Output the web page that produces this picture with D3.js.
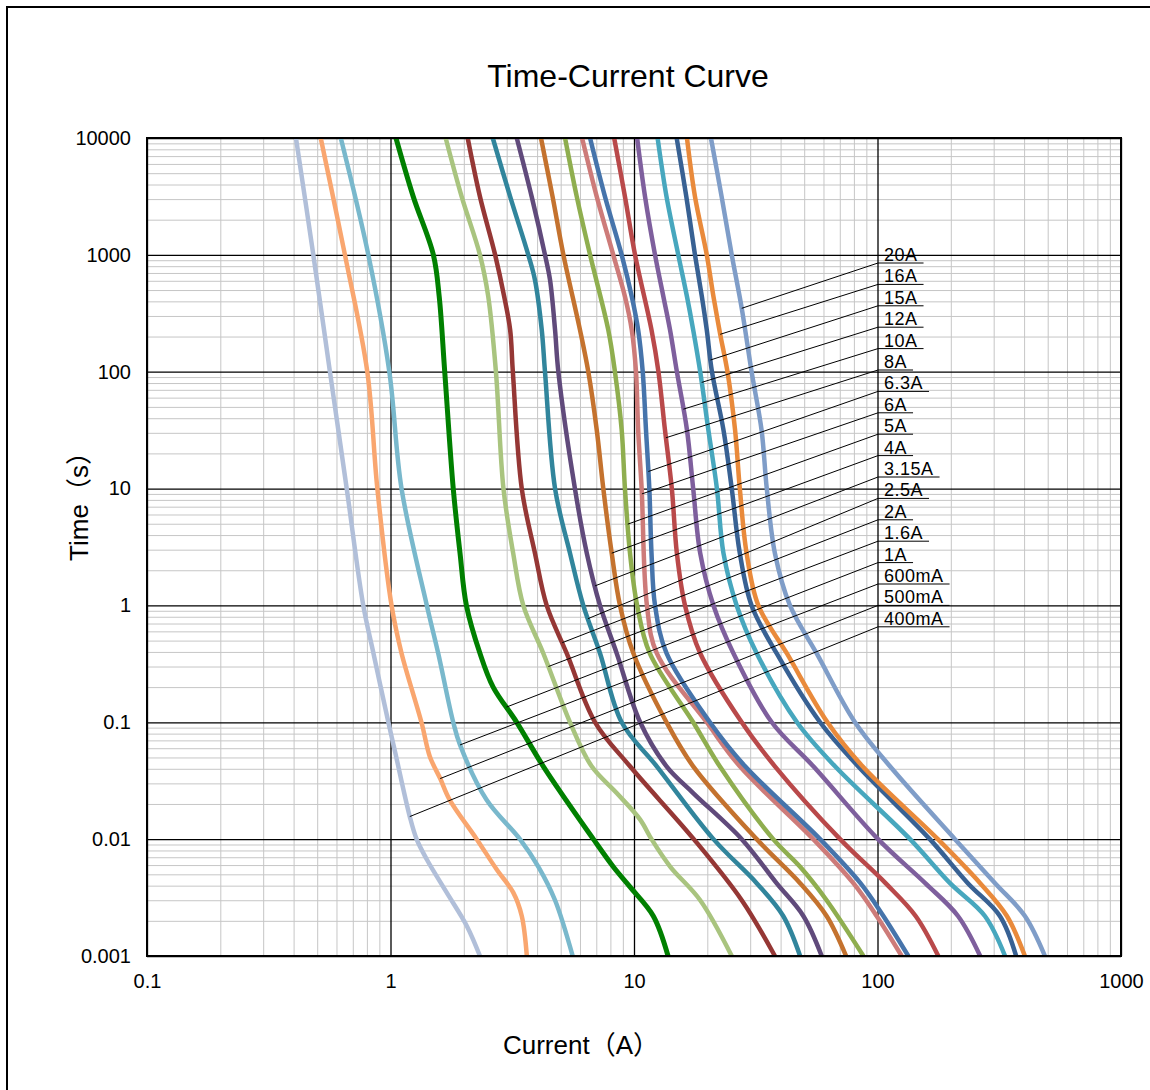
<!DOCTYPE html>
<html>
<head>
<meta charset="utf-8">
<script src="https://cdn.jsdelivr.net/npm/d3@7"></script>
<style>
body { margin: 0; background: #fff; }
text { font-family: "Liberation Sans", Arial, "Noto Sans CJK SC", sans-serif; fill: #000; }
.grid line { stroke: #c6c6c6; stroke-width: 1; }
.major line { stroke: #000; stroke-width: 1.3; }
.label text { font-family: "Liberation Sans", Arial, sans-serif; font-size: 18px; letter-spacing: 0.5px; }
</style>
</head>
<body>
<script>
var w = 1150, h = 1090;
var margin = {"left": 147, "right": 29, "top": 138, "bottom": 134};

// fuse ratings, left to right on the chart
var ratings = ["400mA", "500mA", "600mA", "1A", "1.6A", "2A", "2.5A", "3.15A", "4A",
               "5A", "6A", "6.3A", "8A", "10A", "12A", "15A", "16A", "20A"];
var colors = ["#b1bfd9", "#f9a66f", "#79b8cc", "#008000", "#a9c47f", "#953735", "#31859c", "#604a7b", "#c4722e",
              "#8fae4f", "#cd7b79", "#4674ab", "#b9494a", "#7e5f9d", "#47a7be", "#386193", "#e98a3b", "#7f9dc8"];
// time (s) where each label's leader line touches its curve
var labelTimes = [0.0156, 0.033, 0.064, 0.135, 0.30, 0.48, 0.77, 1.47, 2.8,
                  4.96, 9.0, 14.0, 27.2, 47.8, 81, 126, 209, 349];

var xTicks = [0.1, 1, 10, 100, 1000];
var xTickLabels = ["0.1", "1", "10", "100", "1000"];
var yTicks = [0.001, 0.01, 0.1, 1, 10, 100, 1000, 10000];
var yTickLabels = ["0.001", "0.01", "0.1", "1", "10", "100", "1000", "10000"];

// [current A, time s]
var c400mA = [[0.409,10000],[0.482,1000],[0.564,100],[0.661,10],[0.773,1],[0.851,0.39],[0.98,0.1],[1.044,0.056],[1.20,0.0156],[1.28,0.01],[1.41,0.0067],[1.70,0.0035],[2.06,0.0018],[2.33,0.001]];
var c500mA = [[0.517,10000],[0.65,1000],[0.803,100],[0.883,10],[1.01,1],[1.11,0.39],[1.34,0.1],[1.45,0.051],[1.60,0.033],[1.75,0.0217],[2.26,0.01],[2.73,0.0055],[3.19,0.0035],[3.46,0.0022],[3.63,0.001]];
var c600mA = [[0.625,10000],[0.811,1000],[0.989,100],[1.11,10],[1.41,1],[1.57,0.39],[1.81,0.1],[1.93,0.064],[2.48,0.0217],[3.40,0.01],[4.05,0.0058],[4.74,0.003],[5.60,0.001]];
var c1A = [[1.053,10000],[1.24,3150],[1.50,1000],[1.585,440],[1.67,100],[1.81,10],[1.93,2.8],[2.05,1],[2.33,0.39],[2.64,0.2],[3.30,0.1],[4.24,0.042],[6.81,0.01],[8.22,0.0058],[9.63,0.0039],[12.0,0.0022],[13.8,0.001]];
var c1_6A = [[1.685,10000],[1.96,3150],[2.33,1000],[2.52,440],[2.71,100],[2.91,10],[3.19,2.8],[3.51,1],[4.24,0.39],[5.46,0.1],[6.70,0.042],[8.49,0.0248],[10.6,0.0147],[11.8,0.01],[14.1,0.0058],[18.7,0.003],[25.2,0.001]];
var c2A = [[2.075,10000],[2.33,3150],[2.69,1000],[2.93,440],[3.10,228],[3.18,100],[3.46,10],[3.92,2.8],[4.38,1],[5.29,0.39],[6.92,0.1],[9.63,0.042],[17.6,0.01],[27.7,0.003],[37.9,0.001]];
var c2_5A = [[2.63,10000],[3.10,3150],[3.68,1000],[3.92,610],[4.18,228],[4.31,100],[4.74,10],[5.46,2.8],[6.19,1],[7.25,0.39],[8.90,0.1],[12.4,0.042],[21.2,0.01],[31.9,0.0042],[41.0,0.0022],[48.1,0.001]];
var c3_15A = [[3.30,10000],[3.80,3150],[4.31,1000],[4.52,610],[4.74,228],[4.89,100],[5.72,10],[6.40,2.8],[7.25,1],[8.49,0.39],[10.6,0.1],[13.6,0.042],[17.5,0.0248],[27.7,0.01],[38.5,0.0042],[49.6,0.0022],[59.0,0.001]];
var c4A = [[4.15,10000],[4.63,3150],[5.13,1000],[6.00,228],[6.49,100],[7.03,31.8],[7.48,10],[8.10,2.8],[8.76,1],[9.94,0.39],[13.6,0.1],[17.5,0.042],[31.9,0.01],[48.1,0.0042],[61.8,0.0022],[74.3,0.001]];
var c5A = [[5.21,10000],[5.82,3150],[6.60,1000],[7.84,228],[8.35,100],[8.90,31.8],[9.18,10],[9.63,2.8],[10.3,1],[11.6,0.39],[17.5,0.1],[22.5,0.042],[37.3,0.01],[48.1,0.0058],[61.8,0.003],[87.5,0.001]];
var c6A = [[6.12,10000],[7.03,3150],[8.22,1000],[9.18,440],[9.79,228],[10.19,100],[10.4,31.8],[10.75,10],[11.3,1],[12.4,0.39],[19.9,0.1],[27.2,0.042],[54.5,0.01],[79.6,0.0042],[99.2,0.0022],[125.7,0.001]];
var c6_3A = [[6.60,10000],[7.60,3150],[8.90,1000],[9.79,440],[10.4,228],[10.86,100],[11.2,31.8],[11.56,10],[11.8,2.8],[12.2,1],[13.6,0.39],[20.5,0.1],[28.6,0.042],[58.1,0.01],[85.1,0.0042],[105.7,0.0022],[133.8,0.001]];
var c8A = [[8.29,10000],[9.18,3150],[10.1,1000],[11.8,228],[12.6,100],[13.4,31.8],[14.3,10],[15.0,2.8],[16.2,1],[18.7,0.39],[27.7,0.1],[37.9,0.042],[70.2,0.01],[107.9,0.0042],[143.4,0.0022],[177.7,0.001]];
var c10A = [[10.3,10000],[11.1,3150],[12.2,1000],[13.2,440],[14.06,228],[15.0,100],[16.5,31.8],[17.5,10],[18.7,2.8],[21.2,1],[25.6,0.39],[36.8,0.1],[54.5,0.042],[100.5,0.01],[157,0.0042],[214,0.0022],[264,0.001]];
var c12A = [[12.5,10000],[13.6,3150],[15.2,1000],[16.5,440],[17.5,228],[18.7,100],[20.2,31.8],[21.9,10],[23.3,2.8],[26.4,1],[31.9,0.39],[46.7,0.1],[66.9,0.042],[136,0.01],[198.5,0.0042],[276,0.0022],[334,0.001]];
var c15A = [[14.97,10000],[16.4,3150],[17.8,1000],[19.0,440],[19.9,228],[20.9,100],[23.3,31.8],[25.2,10],[27.2,2.8],[30.4,1],[38.5,0.39],[58.1,0.1],[83.2,0.042],[164,0.01],[235,0.0042],[318,0.0022],[371,0.001]];
var c16A = [[16.5,10000],[17.8,3150],[19.9,1000],[21.2,440],[22.6,209],[24.2,100],[26.0,31.8],[27.2,10],[29.0,2.8],[32.4,1],[42.4,0.39],[62.3,0.1],[86.8,0.042],[177,0.01],[264,0.0042],[340,0.0022],[403,0.001]];
var c20A = [[20.7,10000],[22.9,3150],[25.2,1000],[27.7,349],[30.4,100],[33.4,31.8],[35.1,10],[37.9,2.8],[43.7,1],[56.2,0.39],[80.8,0.1],[112.5,0.042],[208,0.01],[304,0.0042],[403,0.0022],[487,0.001]];

var curves = [c400mA, c500mA, c600mA, c1A, c1_6A, c2A, c2_5A, c3_15A, c4A,
              c5A, c6A, c6_3A, c8A, c10A, c12A, c15A, c16A, c20A];

var x0 = margin.left, x1 = w - margin.right;
var y0 = margin.top, y1 = h - margin.bottom;

var svg = d3.select("body")
            .append("svg")
            .attr("width", w)
            .attr("height", h);

// outer frame (right and bottom edges fall outside the picture)
svg.append("rect")
    .attr("x", 7).attr("y", 7)
    .attr("width", w + 20).attr("height", h + 20)
    .attr("fill", "none")
    .attr("stroke", "#000")
    .attr("stroke-width", 2);

var xScale = d3.scaleLog().domain([0.1, 1000]).range([x0, x1]);
var yScale = d3.scaleLog().domain([0.001, 10000]).range([y1, y0]);

function minors(lo, hi){
    var out = [];
    for (var d = lo; d < hi; d *= 10)
        for (var k = 2; k <= 9; k++) out.push(d*k);
    return out;
}

// minor grid
svg.append("g").classed("grid", true)
    .attr("transform", "translate(0,"+y1+")")
    .call(d3.axisBottom(xScale).tickValues(minors(0.1, 1000)).tickSize(-(y1-y0)).tickFormat(""))
    .call(function(g){ g.select(".domain").remove(); });
svg.append("g").classed("grid", true)
    .attr("transform", "translate("+x0+",0)")
    .call(d3.axisLeft(yScale).tickValues(minors(0.001, 10000)).tickSize(-(x1-x0)).tickFormat(""))
    .call(function(g){ g.select(".domain").remove(); });

// major grid
svg.append("g").classed("major", true)
    .attr("transform", "translate(0,"+y1+")")
    .call(d3.axisBottom(xScale).tickValues(xTicks).tickSize(-(y1-y0)).tickFormat(""))
    .call(function(g){ g.select(".domain").remove(); });
svg.append("g").classed("major", true)
    .attr("transform", "translate("+x0+",0)")
    .call(d3.axisLeft(yScale).tickValues(yTicks).tickSize(-(x1-x0)).tickFormat(""))
    .call(function(g){ g.select(".domain").remove(); });

// tick labels
var xAxis = svg.append("g")
    .attr("transform", "translate(0,"+y1+")")
    .call(d3.axisBottom(xScale).tickValues(xTicks).tickSize(0).tickPadding(18)
            .tickFormat(function(d,i){ return xTickLabels[i]; }));
var yAxis = svg.append("g")
    .attr("transform", "translate("+x0+",0)")
    .call(d3.axisLeft(yScale).tickValues(yTicks).tickSize(0).tickPadding(16)
            .tickFormat(function(d,i){ return yTickLabels[i]; }));
[xAxis, yAxis].forEach(function(g){
    g.select(".domain").remove();
    g.selectAll("text")
        .style("font-family", "'Liberation Sans', Arial, sans-serif")
        .style("font-size", "20px")
        .attr("fill", "#000");
});

// curves
var line = d3.line()
    .x(function(d){ return xScale(d[0]); })
    .y(function(d){ return yScale(d[1]); })
    .curve(d3.curveCatmullRom.alpha(0.5));

svg.append("g")
    .attr("id", "curves")
    .selectAll("path")
    .data(curves)
    .enter()
    .append("path")
    .attr("d", line)
    .attr("fill", "none")
    .attr("stroke", function(d,i){ return colors[i]; })
    .attr("stroke-width", function(d,i){ return ratings[i] == "1A" ? 5 : 4.5; })
    .attr("stroke-linejoin", "round");

// plot border
svg.append("rect")
    .attr("x", x0).attr("y", y0)
    .attr("width", x1-x0).attr("height", y1-y0)
    .attr("fill", "none")
    .attr("stroke", "#000")
    .attr("stroke-width", 2);

// current on a curve at a given time (log-log interpolation)
function currentAt(pts, t){
    for (var i = 0; i < pts.length-1; i++){
        var a = pts[i], b = pts[i+1];
        if (a[1] >= t && b[1] <= t){
            var f = (Math.log(a[1]) - Math.log(t)) / (Math.log(a[1]) - Math.log(b[1]));
            return Math.exp(Math.log(a[0]) + f*(Math.log(b[0]) - Math.log(a[0])));
        }
    }
    return pts[pts.length-1][0];
}

// labels: top row belongs to the rightmost curve
var labelX = 878, labelTop = 263, labelStep = 21.4;
var labelG = svg.append("g").classed("label", true);
ratings.forEach(function(name, i){
    var row = ratings.length - 1 - i;
    var uy = labelTop + row*labelStep;
    var t = labelTimes[i];
    var ax = xScale(currentAt(curves[i], t)), ay = yScale(t);
    var txt = labelG.append("text")
        .attr("x", labelX + 6)
        .attr("y", uy - 2)
        .text(name);
    var len = txt.node().getComputedTextLength();
    labelG.append("line")
        .attr("x1", labelX).attr("y1", uy)
        .attr("x2", labelX + 6 + len + 6).attr("y2", uy)
        .attr("stroke", "#000").attr("stroke-width", 1);
    labelG.append("line")
        .attr("x1", labelX).attr("y1", uy)
        .attr("x2", ax).attr("y2", ay)
        .attr("stroke", "#000").attr("stroke-width", 1);
});

// titles
svg.append("text")
    .attr("x", 628).attr("y", 87)
    .attr("text-anchor", "middle")
    .style("font-size", "32px")
    .text("Time-Current Curve");

svg.append("text")
    .attr("transform", "translate(88,500) rotate(-90)")
    .attr("text-anchor", "middle")
    .style("font-size", "26px")
    .text("Time（s）");

svg.append("text")
    .attr("x", 581).attr("y", 1054)
    .attr("text-anchor", "middle")
    .style("font-size", "26px")
    .text("Current（A）");
</script>
</body>
</html>
